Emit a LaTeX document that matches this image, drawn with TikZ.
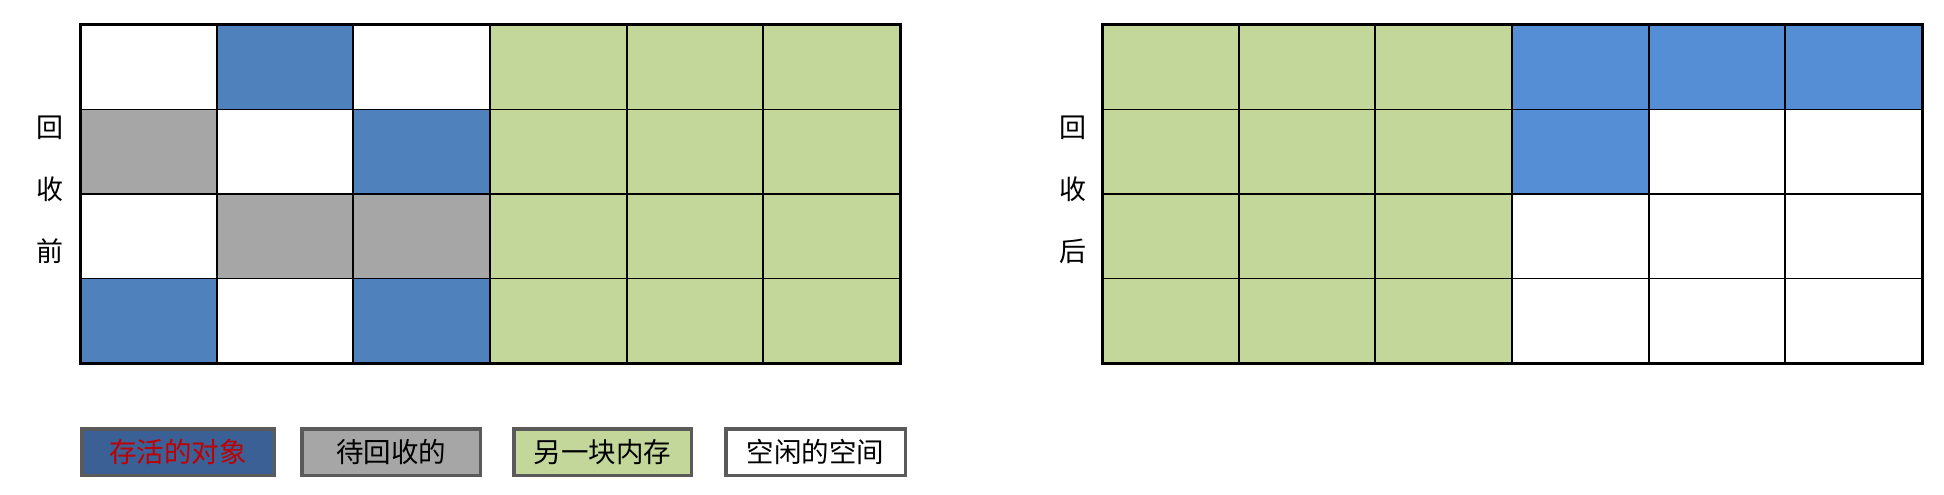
\documentclass[tikz,border=0pt]{standalone}
\usepackage{fontspec}
\newfontfamily\cjk{Noto Sans CJK SC}
\definecolor{LiveColor}{RGB}{79,129,189}
\definecolor{MovedColor}{RGB}{85,142,213}
\definecolor{GarbageColor}{RGB}{166,166,166}
\definecolor{SpareColor}{RGB}{196,215,155}
\definecolor{KeyLiveColor}{RGB}{59,96,150}
\definecolor{KeyTextColor}{RGB}{192,0,0}
\definecolor{KeyBorderColor}{RGB}{90,90,90}
\usepackage{tikz}
\usetikzlibrary{positioning}
\tikzstyle{cell} = [draw=black, line width=1.8pt, minimum width=136.67pt, minimum height=84.5pt, inner sep=0pt, outer sep=0pt]
\tikzstyle{frame} = [draw=black, line width=3pt]
\tikzstyle{side} = [font=\cjk\fontsize{27}{62}\selectfont, align=center, inner sep=0pt]
\tikzstyle{key} = [draw=KeyBorderColor, line width=3.5pt, minimum height=46.5pt, inner sep=0pt, font=\cjk\fontsize{27.5}{30}\selectfont]

\begin{document}
\begin{tikzpicture}[x=1pt, y=-1pt]
                \useasboundingbox (0,0) rectangle (1944,495);

                % Before collection
                \foreach \row [count=\r] in {{white,LiveColor,white,SpareColor,SpareColor,SpareColor},
                                             {GarbageColor,white,LiveColor,SpareColor,SpareColor,SpareColor},
                                             {white,GarbageColor,GarbageColor,SpareColor,SpareColor,SpareColor},
                                             {LiveColor,white,LiveColor,SpareColor,SpareColor,SpareColor}}
                    \foreach \shade [count=\c] in \row
                        \node[cell, fill=\shade] (pre-\r-\c) at ({80+(\c-0.5)*136.67}, {25+(\r-0.5)*84.5}) {};
                \draw[frame] (pre-1-1.north west) rectangle (pre-4-6.south east);
                \node[side] (pre-label) at (50,190) {回\\收\\前};

                % After collection
                \foreach \row [count=\r] in {{SpareColor,SpareColor,SpareColor,MovedColor,MovedColor,MovedColor},
                                             {SpareColor,SpareColor,SpareColor,MovedColor,white,white},
                                             {SpareColor,SpareColor,SpareColor,white,white,white},
                                             {SpareColor,SpareColor,SpareColor,white,white,white}}
                    \foreach \shade [count=\c] in \row
                        \node[cell, fill=\shade] (post-\r-\c) at ({1102+(\c-0.5)*136.67}, {25+(\r-0.5)*84.5}) {};
                \draw[frame] (post-1-1.north west) rectangle (post-4-6.south east);
                \node[side] (post-label) at (1073,190) {回\\收\\后};

                % Legend
                \node[key, fill=KeyLiveColor, text=KeyTextColor, minimum width=192.5pt] (key-live) at (178,452) {存活的对象};
                \node[key, fill=GarbageColor, minimum width=178.5pt, right=24pt of key-live] (key-garbage) {待回收的};
                \node[key, fill=SpareColor, minimum width=177.5pt, right=30pt of key-garbage] (key-spare) {另一块内存};
                \node[key, fill=white, minimum width=179.5pt, right=31pt of key-spare] (key-free) {空闲的空间};
            \end{tikzpicture}
\end{document}
